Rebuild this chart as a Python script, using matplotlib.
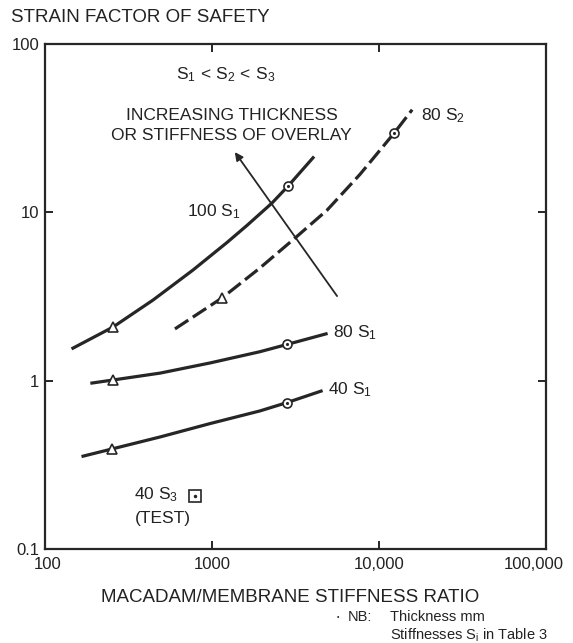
import matplotlib
matplotlib.use("Agg")
import matplotlib.pyplot as plt
from matplotlib.transforms import ScaledTranslation

plt.rcParams['font.family'] = ['Liberation Sans', 'DejaVu Sans']
plt.rcParams['mathtext.fontset'] = 'custom'
plt.rcParams['mathtext.rm'] = 'Liberation Sans'
plt.rcParams['mathtext.it'] = 'Liberation Sans'

INK = '#262626'

# ---- data ----
s100_1_x = [147, 255, 443, 769, 1230, 1622, 2286, 2851, 4027]
s100_1_y = [1.56, 2.08, 3.01, 4.54, 6.62, 8.37, 11.35, 14.3, 21.1]

s80_2_x = [600, 1148, 1936, 3140, 4885, 7690, 12300, 15800]
s80_2_y = [2.03, 3.10, 4.67, 7.03, 10.3, 16.8, 29.5, 40.7]

s80_1_x = [191, 255, 489, 973, 1936, 2812, 4820]
s80_1_y = [0.968, 1.009, 1.109, 1.274, 1.486, 1.641, 1.897]

s40_1_x = [169, 252, 489, 973, 1936, 2812, 4500]
s40_1_y = [0.356, 0.393, 0.463, 0.556, 0.661, 0.741, 0.867]

tri_x = [255, 1148, 255, 252]
tri_y = [2.08, 3.10, 1.009, 0.393]

circ_x = [2851, 12300, 2812, 2812]
circ_y = [14.3, 29.5, 1.641, 0.741]

test_x = [790]
test_y = [0.206]

arrow_tail = (5610, 3.18)
arrow_head = (1370, 22.8)

xticks = [100, 1000, 10000, 100000]
xticklabels = ['100', '1000', '10,000', '100,000']
yticks = [0.1, 1, 10, 100]
yticklabels = ['0.1', '1', '10', '100']

# ---- figure ----
fig = plt.figure(figsize=(5.73, 6.43), dpi=100)
ax = fig.add_axes([45/573, 1-549/643, (546-45)/573, (549-44)/643])
ax.set_xscale('log')
ax.set_yscale('log')
ax.set_xlim(100, 100000)
ax.set_ylim(0.1, 100)

lw = 2.3
ax.plot(s100_1_x, s100_1_y, color=INK, lw=lw, solid_joinstyle='round')
ax.plot(s80_2_x, s80_2_y, color=INK, lw=lw, dashes=(5, 1.7), solid_joinstyle='round')
ax.plot(s80_1_x, s80_1_y, color=INK, lw=lw, solid_joinstyle='round')
ax.plot(s40_1_x, s40_1_y, color=INK, lw=lw, solid_joinstyle='round')

ax.plot(tri_x, tri_y, linestyle='none', marker='^', ms=7, mfc='white',
        mec=INK, mew=1.2, zorder=5)
ax.plot(circ_x, circ_y, linestyle='none', marker='o', ms=6.5, mfc='white',
        mec=INK, mew=1.2, zorder=5)
ax.plot(circ_x, circ_y, linestyle='none', marker='.', ms=2.5, color=INK, zorder=6)
ax.plot(test_x, test_y, linestyle='none', marker='s', ms=8.5, mfc='white',
        mec=INK, mew=1.2, zorder=5)
ax.plot(test_x, test_y, linestyle='none', marker='.', ms=3, color=INK, zorder=6)

ax.annotate('', xy=arrow_head, xytext=arrow_tail,
            arrowprops=dict(arrowstyle='-|>', color=INK, lw=1.3,
                            mutation_scale=12, shrinkA=0, shrinkB=0))

# axes styling
for sp in ax.spines.values():
    sp.set_color(INK)
    sp.set_linewidth(1.6)
ax.set_xticks(xticks)
ax.set_xticklabels(xticklabels)
ax.set_yticks(yticks)
ax.set_yticklabels(yticklabels)
ax.minorticks_off()
ax.tick_params(which='major', direction='in', length=6, width=1.4, color=INK,
               top=True, right=True, labelsize=12, labelcolor='#222222', pad=6)
ax.tick_params(axis='y', pad=4)
lbls = ax.get_xticklabels()
lbls[-1].set_transform(lbls[-1].get_transform() +
                       ScaledTranslation(-0.12, 0, fig.dpi_scale_trans))
lbls[0].set_transform(lbls[0].get_transform() +
                      ScaledTranslation(0.03, 0, fig.dpi_scale_trans))

fs = 12.5
tc = '#222222'
ax.text(226/573, 1-75/643, r'$\mathregular{S_1\,<\,S_2\,<\,S_3}$', transform=fig.transFigure,
        ha='center', va='center', fontsize=fs, color=tc)
ax.text(232/573, 1-116/643, 'INCREASING THICKNESS', transform=fig.transFigure,
        ha='center', va='center', fontsize=fs, color=tc)
ax.text(231/573, 1-136/643, 'OR STIFFNESS OF OVERLAY', transform=fig.transFigure,
        ha='center', va='center', fontsize=fs, color=tc)

ax.text(187/573, 1-212/643, r'$\mathregular{100\ S_1}$', transform=fig.transFigure,
        ha='left', va='center', fontsize=fs, color=tc)
ax.text(421/573, 1-116/643, r'$\mathregular{80\ S_2}$', transform=fig.transFigure,
        ha='left', va='center', fontsize=fs, color=tc)
ax.text(333/573, 1-333/643, r'$\mathregular{80\ S_1}$', transform=fig.transFigure,
        ha='left', va='center', fontsize=fs, color=tc)
ax.text(328/573, 1-390/643, r'$\mathregular{40\ S_1}$', transform=fig.transFigure,
        ha='left', va='center', fontsize=fs, color=tc)
ax.text(134/573, 1-495/643, r'$\mathregular{40\ S_3}$', transform=fig.transFigure,
        ha='left', va='center', fontsize=fs, color=tc)
ax.text(135/573, 1-518/643, '(TEST)', transform=fig.transFigure,
        ha='left', va='center', fontsize=fs, color=tc)

fig.text(11/573, 1-17/643, 'STRAIN FACTOR OF SAFETY', ha='left', va='center',
         fontsize=13.5, color=tc)
fig.text(290/573, 1-597/643, 'MACADAM/MEMBRANE STIFFNESS RATIO', ha='center',
         va='center', fontsize=13.5, color=tc)
fig.text(337/573, 1-617/643, '\u2022', ha='left', va='center', fontsize=5, color=tc)
fig.text(348/573, 1-617/643, 'NB:', ha='left', va='center', fontsize=10.5, color=tc)
fig.text(390/573, 1-617/643, 'Thickness mm', ha='left', va='center', fontsize=10.5, color=tc)
fig.text(390/573, 1-635/643, r'Stiffnesses $\mathregular{S_i}$ in Table 3', ha='left',
         va='center', fontsize=10.5, color=tc)

fig.savefig('out.png', dpi=100, facecolor='white')
